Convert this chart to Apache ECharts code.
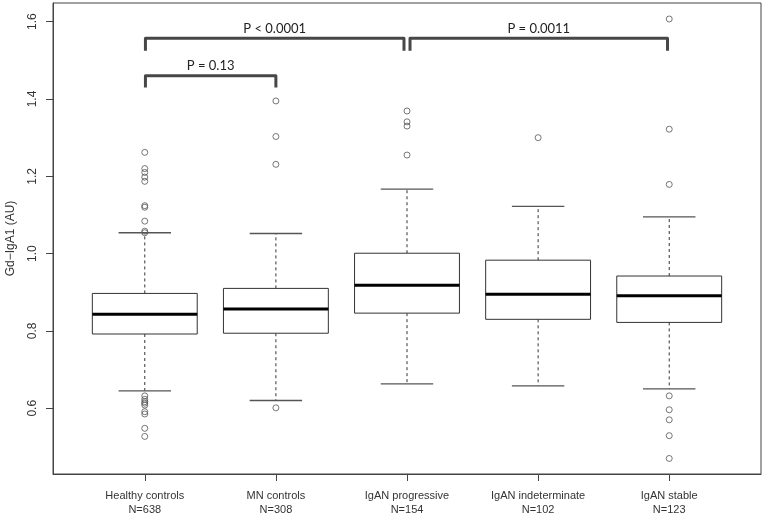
<!DOCTYPE html>
<html>
<head>
<meta charset="utf-8">
<script src="https://cdn.jsdelivr.net/npm/echarts@6/dist/echarts.min.js"></script>
<style>
  html, body { margin: 0; padding: 0; background: #fff; }
  #main { width: 764px; height: 516px; }
</style>
</head>
<body>
<div id="main"></div>
<script>
const groups = ['Healthy controls', 'MN controls', 'IgAN progressive', 'IgAN indeterminate', 'IgAN stable'];
const counts = ['N=638', 'N=308', 'N=154', 'N=102', 'N=123'];
// [min, Q1, median, Q3, max] per group
const boxStats = [
  [0.645, 0.792, 0.843, 0.897, 1.054],
  [0.620, 0.794, 0.857, 0.910, 1.052],
  [0.663, 0.846, 0.918, 1.001, 1.167],
  [0.658, 0.830, 0.895, 0.983, 1.122],
  [0.650, 0.822, 0.891, 0.942, 1.095]
];
const outliers = [
  [1.262, 1.220, 1.210, 1.198, 1.187, 1.124, 1.120, 1.084, 1.058, 1.054,
   0.632, 0.623, 0.617, 0.613, 0.608, 0.591, 0.585, 0.548, 0.527],
  [1.395, 1.303, 1.231, 0.601],
  [1.369, 1.341, 1.330, 1.255],
  [1.300],
  [1.607, 1.322, 1.179, 0.632, 0.596, 0.570, 0.529, 0.470]
];
const yTicks = [0.6, 0.8, 1.0, 1.2, 1.4, 1.6];
// comparison brackets: [left x, right x, bar level, end level]
const brackets = [
  [1.005, 2.977, 1.557, 1.525],
  [3.023, 4.987, 1.557, 1.525],
  [1.005, 2.000, 1.460, 1.430]
];
const pLabels = ['P < 0.0001', 'P = 0.0011', 'P = 0.13'];

const xPos = groups.map((g, i) => i + 1);

const chart = echarts.init(document.getElementById('main'));

const renderBox = (params, api) => {
  const x = api.value(0);
  const p = [1, 2, 3, 4, 5].map(i => api.coord([x, api.value(i)]));
  const cx = p[0][0];
  const [yMin, yQ1, yMed, yQ3, yMax] = p.map(pt => pt[1]);
  const half = api.size([0.8, 0])[0] / 2;
  const staple = api.size([0.4, 0])[0] / 2;
  const dash = { stroke: '#333', lineWidth: 1, lineDash: [3, 3] };
  const cap = { stroke: '#555', lineWidth: 1.3 };
  return {
    type: 'group',
    children: [
      { type: 'line', shape: { x1: cx, y1: yQ3, x2: cx, y2: yMax }, style: dash },
      { type: 'line', shape: { x1: cx, y1: yQ1, x2: cx, y2: yMin }, style: dash },
      { type: 'line', shape: { x1: cx - staple, y1: yMax, x2: cx + staple, y2: yMax }, style: cap },
      { type: 'line', shape: { x1: cx - staple, y1: yMin, x2: cx + staple, y2: yMin }, style: cap },
      { type: 'rect', shape: { x: cx - half, y: yQ3, width: half * 2, height: yQ1 - yQ3 },
        style: { fill: '#fff', stroke: '#333', lineWidth: 1 } },
      { type: 'line', shape: { x1: cx - half, y1: yMed, x2: cx + half, y2: yMed },
        style: { stroke: '#000', lineWidth: 3 } }
    ]
  };
};

const renderBracket = (params, api) => {
  const x1 = api.value(0), x2 = api.value(1), top = api.value(2), end = api.value(3);
  const a = api.coord([x1, end]), b = api.coord([x1, top]);
  const c = api.coord([x2, top]), d = api.coord([x2, end]);
  return {
    type: 'group',
    children: [
      { type: 'polyline', shape: { points: [a, b, c, d] },
        style: { stroke: '#474747', lineWidth: 3, fill: null, lineJoin: 'round' } },
      { type: 'text', x: (b[0] + c[0]) / 2, y: b[1] - 10,
        style: { text: pLabels[api.value(4)], fill: '#222', font: '13px Lato',
          align: 'center', verticalAlign: 'middle' } }
    ]
  };
};

const option = {
  animation: false,
  grid: {
    left: 53, right: 3, top: 3, bottom: 42,
    containLabel: false,
    outerBoundsMode: 'none',
    show: true, borderColor: '#444', borderWidth: 1
  },
  xAxis: {
    type: 'value',
    min: 0.3,
    max: 5.7,
    splitLine: { show: false },
    axisLine: { show: true, onZero: false, lineStyle: { color: '#444' } },
    axisTick: { show: true, customValues: xPos, length: 7, lineStyle: { color: '#444' } },
    axisLabel: {
      customValues: xPos,
      formatter: v => groups[Math.round(v) - 1] + '\n' + counts[Math.round(v) - 1],
      margin: 15,
      fontSize: 11,
      lineHeight: 14,
      color: '#333',
      fontFamily: 'Liberation Sans'
    }
  },
  yAxis: {
    type: 'value',
    min: 0.4298,
    max: 1.6484,
    name: 'Gd\u2212IgA1 (AU)',
    nameLocation: 'middle',
    nameRotate: 90,
    nameGap: 36,
    nameTextStyle: { fontSize: 12, color: '#333', fontFamily: 'Liberation Sans' },
    splitLine: { show: false },
    axisLine: { show: true, lineStyle: { color: '#444' } },
    axisTick: { show: true, customValues: yTicks, length: 7, lineStyle: { color: '#444' } },
    axisLabel: {
      customValues: yTicks,
      formatter: v => v.toFixed(1),
      rotate: 90,
      margin: 14,
      fontSize: 12,
      color: '#333',
      fontFamily: 'Liberation Sans'
    }
  },
  series: [
    {
      type: 'scatter',
      symbol: 'circle',
      symbolSize: 6,
      itemStyle: { color: 'rgba(255,255,255,0)', borderColor: '#555', borderWidth: 1 },
      data: outliers.flatMap((vals, i) => vals.map(v => [xPos[i], v]))
    },
    {
      type: 'custom',
      renderItem: renderBox,
      encode: { x: 0, y: [1, 2, 3, 4, 5] },
      data: boxStats.map((s, i) => [xPos[i], ...s])
    },
    {
      type: 'custom',
      renderItem: renderBracket,
      encode: { x: [0, 1], y: [2, 3] },
      data: brackets.map((b, i) => [...b, i])
    }
  ]
};

chart.setOption(option);
</script>
</body>
</html>
